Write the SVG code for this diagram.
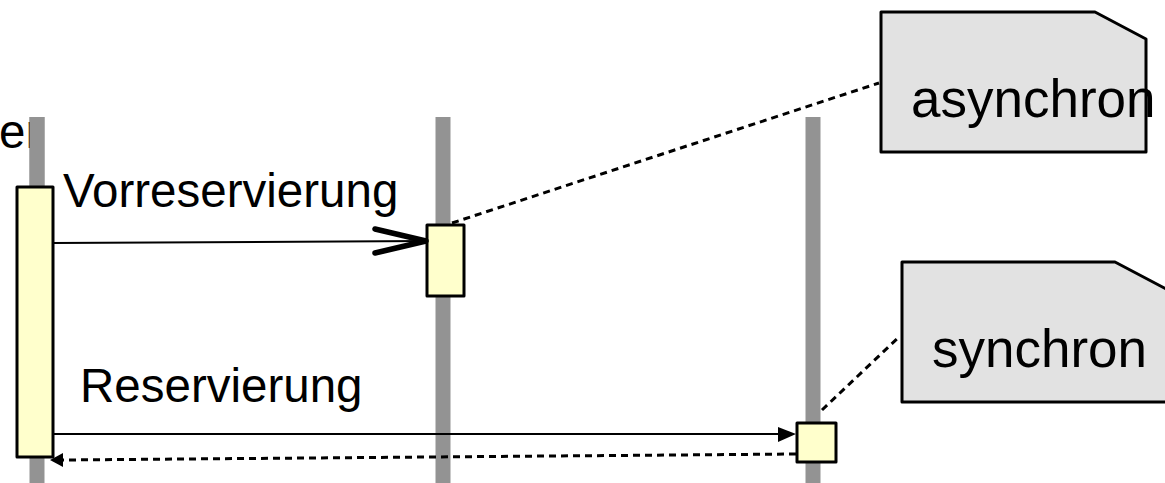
<svg xmlns="http://www.w3.org/2000/svg" width="1165" height="483" viewBox="0 0 1165 483">
<style>
text{font-family:"Liberation Sans",Arial,sans-serif;fill:#000}
.life{stroke:#939393;stroke-width:15;fill:none}
.act{fill:#ffffcc;stroke:#000;stroke-width:3;stroke-linejoin:round}
.note{fill:#e2e2e2;stroke:#000;stroke-width:3;stroke-linejoin:round}
.msg{stroke:#000;stroke-width:2;fill:none}
.dash{stroke:#000;stroke-width:3;fill:none;stroke-dasharray:7 5}
.lbl{font-size:47.5px}
.ntxt{font-size:53px}
</style>
<g id="lifeline1">
<line class="life" x1="37" y1="117" x2="37" y2="483"/>
<text class="lbl" x="-1" y="148">er</text>
<line class="life" x1="37" y1="117" x2="37" y2="190"/>
<rect class="act" x="17" y="187" width="36" height="270"/>
</g>
<g id="lifeline2">
<line class="life" x1="443" y1="117" x2="443" y2="483"/>
<rect class="act" x="427" y="225" width="37" height="71"/>
</g>
<g id="lifeline3">
<line class="life" x1="813" y1="117" x2="813" y2="483"/>
<rect class="act" x="797" y="423" width="39" height="39"/>
</g>
<g id="note-async">
<path class="note" d="M881,12 L1095,12 L1146,39 L1146,152 L881,152 Z"/>
<text class="ntxt" x="911" y="117">asynchron</text>
</g>
<g id="note-sync">
<path class="note" d="M902,262 L1115,262 L1168,290 L1168,402 L902,402 Z"/>
<text class="ntxt" x="932" y="367">synchron</text>
</g>
<g id="connectors">
<line class="msg" x1="53" y1="243" x2="426" y2="241"/>
<polyline points="375,229 426,241 375,253" fill="none" stroke="#000" stroke-width="5.5" stroke-linecap="round" stroke-linejoin="round"/>
<text class="lbl" x="63" y="207">Vorreservierung</text>
<line class="msg" x1="53" y1="434" x2="780" y2="434"/>
<polygon points="778,427 796,434 778,442" fill="#000"/>
<text class="lbl" x="80" y="402">Reservierung</text>
<line class="dash" x1="796" y1="454" x2="63" y2="460"/>
<polygon points="63,453 50,460 63,467" fill="#000"/>
<line class="dash" x1="452" y1="223" x2="879" y2="83"/>
<line class="dash" x1="822" y1="410" x2="900" y2="336"/>
</g>
</svg>
